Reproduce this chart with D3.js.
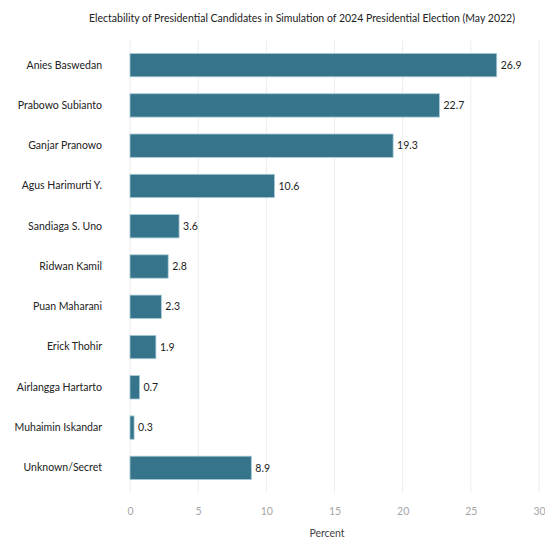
<!DOCTYPE html>
<html>
<head>
<meta charset="utf-8">
<script src="https://cdn.jsdelivr.net/npm/d3@7"></script>
<style>
  body { margin: 0; background: #fff; }
  text { font-family: Lato, "Open Sans", sans-serif; }
</style>
</head>
<body>
<div class="graph"></div>
<script>
const candidates = [
  "Anies Baswedan", "Prabowo Subianto", "Ganjar Pranowo", "Agus Harimurti Y.",
  "Sandiaga S. Uno", "Ridwan Kamil", "Puan Maharani", "Erick Thohir",
  "Airlangga Hartarto", "Muhaimin Iskandar", "Unknown/Secret"
];
const percents = [26.9, 22.7, 19.3, 10.6, 3.6, 2.8, 2.3, 1.9, 0.7, 0.3, 8.9];
const xTicks = [0, 5, 10, 15, 20, 25, 30];

const dataset = candidates.map((name, i) => ({ name: name, value: percents[i] }));

function main() {
  //setting
  const width = 545;
  const height = 539;
  const left = 130;
  const right = 539;
  const top = 45;
  const bottom = 488;

  const xScale = d3.scaleLinear().domain([0, 30]).range([left, right]);
  const yScale = d3
    .scaleBand()
    .domain(candidates)
    .range([top, bottom])
    .paddingInner(0.42)
    .paddingOuter(0.21);

  const svg = d3
    .select(".graph")
    .append("svg")
    .attr("width", width)
    .attr("height", height);

  //title
  svg
    .append("text")
    .attr("x", 302)
    .attr("y", 22)
    .attr("text-anchor", "middle")
    .style("font-size", "10.5px")
    .style("fill", "#222")
    .text("Electability of Presidential Candidates in Simulation of 2024 Presidential Election (May 2022)");

  //gridlines
  svg
    .append("g")
    .selectAll("line")
    .data(xTicks)
    .enter()
    .append("line")
    .attr("x1", d => xScale(d))
    .attr("x2", d => xScale(d))
    .attr("y1", 40)
    .attr("y2", 493)
    .style("stroke", "#ececec")
    .style("stroke-width", 1);

  //x axis
  const xAxis = d3.axisBottom(xScale).tickValues(xTicks).tickSize(0).tickPadding(0);
  const gx = svg
    .append("g")
    .attr("transform", "translate(0,508)")
    .call(xAxis);
  gx.select(".domain").remove();
  gx.selectAll("text")
    .style("font-family", "Lato, 'Open Sans', sans-serif")
    .style("font-size", "10.5px")
    .style("fill", "#a6a6a6");

  svg
    .append("text")
    .attr("x", 327)
    .attr("y", 537)
    .attr("text-anchor", "middle")
    .style("font-size", "10.5px")
    .style("fill", "#444")
    .text("Percent");

  //y labels
  const yAxis = d3.axisLeft(yScale).tickSize(0).tickPadding(28);
  const gy = svg
    .append("g")
    .attr("transform", "translate(" + left + ",0)")
    .call(yAxis);
  gy.select(".domain").remove();
  gy.selectAll("text")
    .style("font-family", "Lato, 'Open Sans', sans-serif")
    .style("font-size", "10.5px")
    .style("fill", "#222");

  //bars
  svg
    .selectAll(".bar")
    .data(dataset)
    .enter()
    .append("rect")
    .attr("class", "bar")
    .attr("x", xScale(0))
    .attr("y", d => yScale(d.name))
    .attr("width", d => xScale(d.value) - xScale(0))
    .attr("height", yScale.bandwidth())
    .style("fill", "#35748a")
    .style("stroke", "#a9cbd6")
    .style("stroke-width", 0.8);

  //value labels
  svg
    .selectAll(".val")
    .data(dataset)
    .enter()
    .append("text")
    .attr("class", "val")
    .attr("x", d => xScale(d.value) + 4)
    .attr("y", d => yScale(d.name) + yScale.bandwidth() / 2)
    .attr("dy", "0.35em")
    .style("font-size", "10.5px")
    .style("fill", "#222")
    .text(d => d.value);
}

main();
</script>
</body>
</html>
